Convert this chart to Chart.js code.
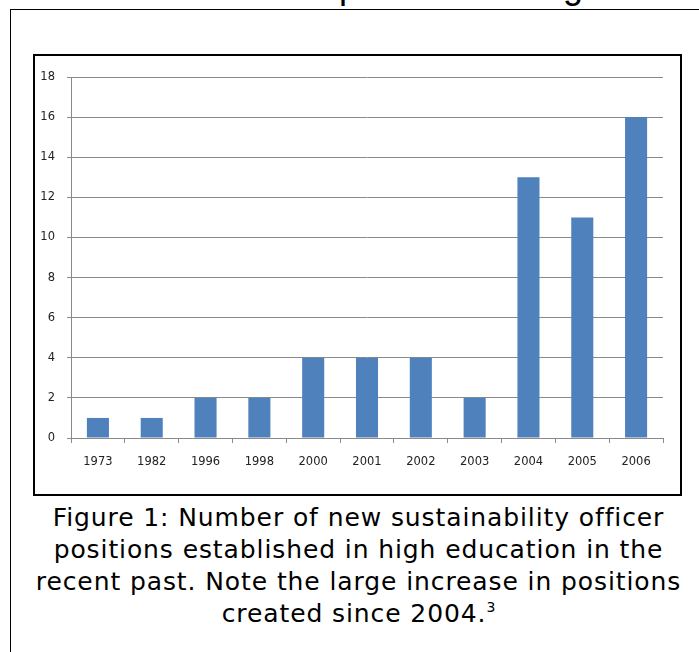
<!DOCTYPE html>
<html>
<head>
<meta charset="utf-8">
<script src="https://cdn.jsdelivr.net/npm/chart.js@4/dist/chart.umd.min.js"></script>
<style>
  html, body { margin: 0; padding: 0; background: #fff; }
  body { width: 699px; height: 652px; position: relative; overflow: hidden; }
  .heading {
    position: absolute; left: 257px; top: -32px; white-space: nowrap;
    font-family: "Liberation Sans", Arial, sans-serif; font-size: 36px; line-height: 36px; color: #000;
  }
  .page-frame {
    position: absolute; left: 10px; top: 9px; width: 720px; height: 700px;
    border: 1.5px solid #000; box-sizing: border-box;
  }
  .chart-frame {
    position: absolute; left: 33px; top: 54px; width: 649px; height: 442px;
    border: 2px solid #000; box-sizing: border-box; background: #fff;
  }
  .chart-frame canvas { position: absolute; left: 0; top: 0; }
  .caption {
    position: absolute; left: 9px; width: 699px; top: 502px; text-align: center;
    font-family: "DejaVu Sans", Verdana, sans-serif; font-size: 25px; line-height: 32px;
    letter-spacing: 0.9px; color: #000;
  }
  .caption sup { font-size: 14px; vertical-align: 10px; line-height: 0; letter-spacing: 0; }
</style>
</head>
<body>
<div class="heading">New positions in Higher Education</div>
<div class="page-frame"></div>
<div class="chart-frame"><canvas id="c" width="645" height="438"></canvas></div>
<div class="caption">Figure 1: Number of new sustainability officer<br>positions established in high education in the<br>recent past. Note the large increase in positions<br>created since 2004.<sup>3</sup></div>
<script>
// New sustainability officer positions per year
const years = ["1973", "1982", "1996", "1998", "2000", "2001", "2002", "2003", "2004", "2005", "2006"];
const positions = [1, 1, 2, 2, 4, 4, 4, 2, 13, 11, 16];
const yTicks = [0, 2, 4, 6, 8, 10, 12, 14, 16, 18];

const tickFont = { family: "'DejaVu Sans', Verdana, sans-serif", size: 11.5 };

new Chart(document.getElementById('c'), {
  type: 'bar',
  data: {
    labels: years,
    datasets: [{
      data: positions,
      backgroundColor: '#4F81BD',
      borderWidth: 0,
      categoryPercentage: 1,
      barPercentage: 0.41
    }]
  },
  options: {
    responsive: false,
    animation: false,
    devicePixelRatio: 1,
    layout: { padding: { top: 21, right: 17, bottom: 16, left: 0 } },
    plugins: { legend: { display: false }, tooltip: { enabled: false } },
    scales: {
      x: {
        grid: { drawOnChartArea: false, drawTicks: true, tickLength: 5, color: '#8a8a8a', offset: true },
        border: { color: '#8a8a8a', width: 1 },
        ticks: { font: tickFont, color: '#222', padding: 12, maxRotation: 0 },
        afterFit: (s) => { s.height = 40; }
      },
      y: {
        min: 0, max: 18,
        afterBuildTicks: (s) => { s.ticks = yTicks.map(v => ({ value: v })); },
        grid: { color: '#8a8a8a', lineWidth: 1, tickLength: 4 },
        border: { color: '#8a8a8a', width: 1 },
        ticks: { font: tickFont, color: '#222', padding: 12 },
        afterFit: (s) => { s.width = 36; }
      }
    }
  }
});
</script>
</body>
</html>
